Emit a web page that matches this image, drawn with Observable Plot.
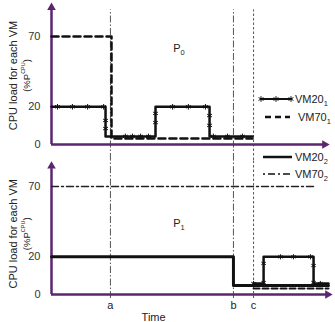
<!DOCTYPE html>
<html>
<head>
<meta charset="utf-8">
<script src="https://cdn.jsdelivr.net/npm/d3@7"></script>
<script src="https://cdn.jsdelivr.net/npm/@observablehq/plot@0.6"></script>
<style>
  html, body { margin: 0; padding: 0; background: #fff; }
  #chart { width: 335px; height: 322px; }
</style>
</head>
<body>
<div id="chart"></div>
<script>
// ---------- data ----------
const panels = ["P0", "P1"];
const yTicks = [0, 20, 70];
const eventLabels = ["a", "b", "c"];
const eventTimes = [21.7, 67.0, 74.4];

// Panel P0
const p0Vm20T = [0, 19.9, 19.9, 38.3, 38.3, 58.2, 58.2, 74.0];
const p0Vm20V = [20, 20, 3.2, 3.2, 20, 20, 3.2, 3.2];
const p0Vm70T = [0, 22.1, 22.1, 74.0];
const p0Vm70V = [70, 70, 2.2, 2.2];
const p0StarT = [2.2, 7.7, 13.3, 19.2, 19.9, 19.9, 27.2, 29.8, 32.8, 35.7, 38.3, 38.3, 44.6, 50.4, 56.7, 58.2, 58.2, 59.6, 64.8, 70.3];
const p0StarV = [20, 20, 20, 20, 11.7, 7.2, 3.2, 3.2, 3.2, 3.2, 10.5, 15.9, 20, 20, 20, 14.6, 8.9, 3.2, 3.2, 3.2];

// Panel P1
const p1Vm20bT = [0, 67.0, 67.0, 102];
const p1Vm20bV = [20, 20, 3.6, 3.6];
const p1Vm70bT = [0, 96.5];
const p1Vm70bV = [70, 70];
const p1Vm20aT = [74.4, 78.1, 78.1, 96.5, 96.5, 102];
const p1Vm20aV = [4.6, 4.6, 20, 20, 4.6, 4.6];
const p1Vm70aT = [74.4, 102];
const p1Vm70aV = [2.2, 2.2];
const p1StarT = [74.4, 78.1, 78.1, 84.3, 89.1, 95.4, 96.5, 96.5, 99.0];
const p1StarV = [4.6, 5.1, 15.9, 20, 20, 20, 14.6, 5.1, 4.6];

const legendTop = [["VM20", "1"], ["VM70", "1"]];
const legendBottom = [["VM20", "2"], ["VM70", "2"]];

// ---------- helpers ----------
const rows = (ts, vs, panel) => ts.map((t, i) => ({t, v: vs[i], panel}));
const purple = "#5b2570";
const grey = "#555";
const ink = "#111";
const font = "'Liberation Sans', Arial, sans-serif";
const eventDash = ["7,2,1.5,2", "7,2,1.5,2", "2.5,2"];

const axisRows = [
  {panel: "P0", xEnd: 100.2, yTop: 91, xTip: 100.6, yTip: 93},
  {panel: "P1", xEnd: 101.3, yTop: 84, xTip: 101.7, yTip: 86}
];
const tickRows = panels.flatMap(panel => yTicks.map(v => ({panel, v})));

const plot = Plot.plot({
  width: 335,
  height: 322,
  margin: 0,
  fy: {domain: panels, range: [0, 300], padding: 0, axis: null},
  x: {domain: [0, 102], range: [51, 328], axis: null},
  y: {type: "pow", exponent: 0.84, domain: [0, 70], range: [144, 36], axis: null},
  style: {fontFamily: font, fontSize: "11px", background: "white", color: "#222", overflow: "visible"},
  marks: [
    // event verticals, spanning both panels
    ...eventTimes.map((t, i) => Plot.ruleX([{t, panel: "P0"}], {x: "t", fy: "panel", y1: -7.2, y2: 91, stroke: grey, strokeWidth: 1, strokeDasharray: eventDash[i]})),
    ...eventTimes.map((t, i) => Plot.ruleX([{t, panel: "P1"}], {x: "t", fy: "panel", y1: -1.4, y2: 90.5, stroke: grey, strokeWidth: 1, strokeDasharray: eventDash[i]})),
    // axes
    Plot.ruleY(axisRows, {fy: "panel", y: 0, x1: 0, x2: "xEnd", stroke: purple, strokeWidth: 2.5}),
    Plot.ruleX(axisRows, {fy: "panel", x: 0, y1: 0, y2: "yTop", stroke: purple, strokeWidth: 2.5}),
    Plot.dot(axisRows, {fy: "panel", x: "xTip", y: 0, symbol: "triangle", r: 3.2, fill: purple, rotate: 90}),
    Plot.dot(axisRows, {fy: "panel", x: 0, y: "yTip", symbol: "triangle", r: 3.2, fill: purple}),
    // P0 series
    Plot.line(rows(p0Vm70T, p0Vm70V, "P0"), {x: "t", y: "v", fy: "panel", stroke: ink, strokeWidth: 2.5, strokeDasharray: "7,4"}),
    Plot.line(rows(p0Vm20T, p0Vm20V, "P0"), {x: "t", y: "v", fy: "panel", stroke: ink, strokeWidth: 2.5}),
    Plot.dot(rows(p0StarT, p0StarV, "P0"), {x: "t", y: "v", fy: "panel", symbol: "asterisk", r: 2.6, stroke: ink, strokeWidth: 1}),
    // P1 series
    Plot.line(rows(p1Vm70bT, p1Vm70bV, "P1"), {x: "t", y: "v", fy: "panel", stroke: "#222", strokeWidth: 1.4, strokeDasharray: "7,3,2,3"}),
    Plot.line(rows(p1Vm70aT, p1Vm70aV, "P1"), {x: "t", y: "v", fy: "panel", stroke: ink, strokeWidth: 2, strokeDasharray: "6,3"}),
    Plot.line(rows(p1Vm20bT, p1Vm20bV, "P1"), {x: "t", y: "v", fy: "panel", stroke: ink, strokeWidth: 3}),
    Plot.line(rows(p1Vm20aT, p1Vm20aV, "P1"), {x: "t", y: "v", fy: "panel", stroke: ink, strokeWidth: 2.5}),
    Plot.dot(rows(p1StarT, p1StarV, "P1"), {x: "t", y: "v", fy: "panel", symbol: "asterisk", r: 2.4, stroke: ink, strokeWidth: 1}),
    // y tick labels
    Plot.text(tickRows, {fy: "panel", x: 0, y: "v", text: d => String(d.v), dx: -11, textAnchor: "end", fill: "#333", fontSize: 11}),
    // event labels and axis title (bottom panel)
    Plot.text(eventLabels.map((l, i) => ({l, t: eventTimes[i], panel: "P1"})), {fy: "panel", x: "t", y: 0, dy: 11, text: "l", fill: "#222", fontSize: 11}),
    Plot.text([{l: "Time", panel: "P1"}], {fy: "panel", x: 37.6, y: 0, dy: 23, text: "l", fill: "#222", fontSize: 11})
  ]
});

document.getElementById("chart").appendChild(plot);

// ---------- annotations (legend, y titles, panel labels) ----------
const svg = d3.select(plot);
const sx = plot.scale("x"), sy = plot.scale("y"), sfy = plot.scale("fy");
const panelTop = p => sfy.apply(p);

function yTitle(cy) {
  const g = svg.append("g").attr("font-family", font).attr("fill", "#222");
  g.append("text").attr("transform", `translate(13,${cy}) rotate(-90)`)
    .attr("text-anchor", "middle").attr("dy", "0.35em").attr("font-size", 11)
    .text("CPU load for each VM");
  const t = g.append("text").attr("transform", `translate(27,${cy}) rotate(-90)`)
    .attr("text-anchor", "middle").attr("dy", "0.35em").attr("font-size", 9.5);
  t.append("tspan").text("(%P");
  t.append("tspan").attr("font-size", 5.5).attr("dy", "-0.9em").text("CPU");
  t.append("tspan").attr("dy", "0.5em").text(")");
}
yTitle(panelTop("P0") + (sy.apply(0) + sy.apply(93)) / 2);
yTitle(panelTop("P1") + (sy.apply(0) + sy.apply(86)) / 2 + 4);

function panelLabel(name, sub, x, y) {
  const t = svg.append("text").attr("x", x).attr("y", y).attr("font-family", font)
    .attr("text-anchor", "start")
    .attr("font-size", 11).attr("fill", "#222").attr("dy", "0.35em");
  t.append("tspan").text(name);
  t.append("tspan").attr("font-size", 7.5).attr("dy", "0.45em").text(sub);
}
panelLabel("P", "0", sx.apply(45), panelTop("P0") + sy.apply(60.8));
panelLabel("P", "1", sx.apply(45), panelTop("P1") + sy.apply(42.5));

function legendItem(y, label, style) {
  const g = svg.append("g");
  const x0 = style.x0, x1 = style.x1;
  g.append("line").attr("x1", x0).attr("x2", x1).attr("y1", y).attr("y2", y)
    .attr("stroke", ink).attr("stroke-width", style.w)
    .attr("stroke-dasharray", style.dash || null);
  if (style.stars) {
    [x0 + 1, (x0 + x1) / 2, x1 - 1].forEach(cx => {
      g.append("path").attr("d", d3.symbol(d3.symbolAsterisk, 22)()).attr("transform", `translate(${cx},${y})`)
        .attr("stroke", ink).attr("stroke-width", 1).attr("fill", "none");
    });
  }
  const t = g.append("text").attr("x", style.tx).attr("y", y).attr("dy", "0.35em")
    .attr("text-anchor", "start")
    .attr("font-family", font).attr("font-size", 11).attr("fill", "#222");
  t.append("tspan").text(label[0]);
  t.append("tspan").attr("font-size", 7.5).attr("dy", "0.45em").text(label[1]);
}
legendItem(99, legendTop[0], {x0: 260, x1: 292, w: 2, stars: true, tx: 295});
legendItem(117, legendTop[1], {x0: 265, x1: 290, w: 2.5, dash: "6,4", tx: 298});
legendItem(157, legendBottom[0], {x0: 263, x1: 292, w: 2.5, tx: 295});
legendItem(174, legendBottom[1], {x0: 263, x1: 292, w: 1.4, dash: "2,3,7,3", tx: 295});
</script>
</body>
</html>
